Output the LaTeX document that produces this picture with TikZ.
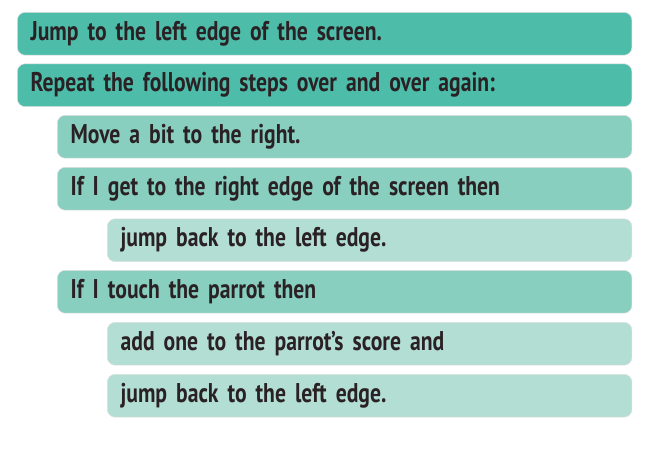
\documentclass[tikz,border=0pt]{standalone}
\usepackage{fontspec}
\usepackage{xcolor}
\usepackage{tikz}
\newfontfamily\barfont{PT Sans}[FakeStretch=0.80]
\definecolor{tealdark}{HTML}{4DBDAA}
\definecolor{tealmid}{HTML}{88CFBF}
\definecolor{teallight}{HTML}{B3DED3}
\definecolor{inkdark}{HTML}{2A2124}

\begin{document}
\begin{tikzpicture}[x=0.75pt,y=-0.75pt,line join=round]
  \tikzset{
    bar/.style={anchor=north west,rectangle,rounded corners=6pt,
      minimum height=32.2pt,inner xsep=10pt,inner ysep=0pt,
      align=left,text=inkdark,font=\barfont\bfseries\fontsize{20.3}{22}\selectfont,
      draw=black!12,line width=0.4pt},
    lvlone/.style={bar,fill=tealdark,text width=441pt},
    lvltwo/.style={bar,fill=tealmid,text width=411pt},
    lvlthree/.style={bar,fill=teallight,text width=373.5pt},
  }
  \useasboundingbox (0,0) rectangle (657,457);
  \node[lvlone] (jump) at (17,12) {Jump to the left edge of the screen.};
  \node[lvlone] (repeat) at (17,63.5) {Repeat the following steps over and over again:};
  \node[lvltwo] (move) at (57,115) {Move a bit to the right.};
  \node[lvltwo] (ifedge) at (57,167) {If I get to the right edge of the screen then};
  \node[lvlthree] (backone) at (107,218.5) {jump back to the left edge.};
  \node[lvltwo] (iftouch) at (57,270) {If I touch the parrot then};
  \node[lvlthree] (score) at (107,322) {add one to the parrot’s score and};
  \node[lvlthree] (backtwo) at (107,374) {jump back to the left edge.};
\end{tikzpicture}
\end{document}
